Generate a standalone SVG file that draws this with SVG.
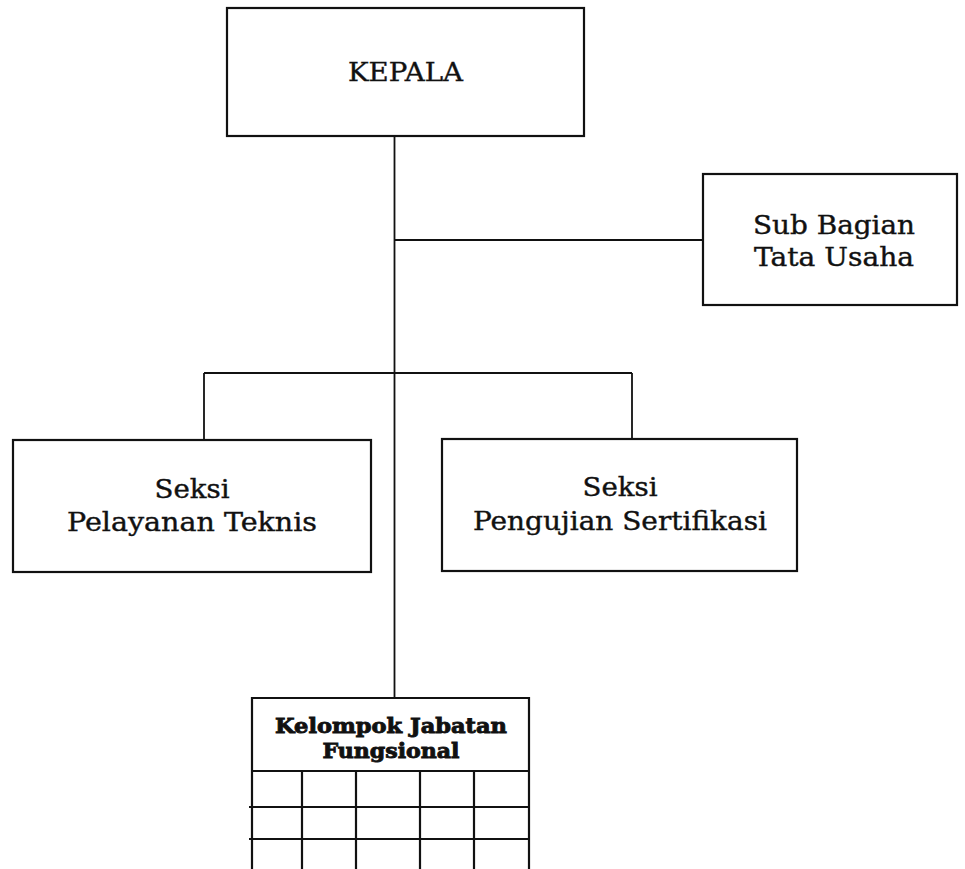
<svg xmlns="http://www.w3.org/2000/svg" width="965" height="869" viewBox="0 0 965 869">
<style>
.box{fill:#fff;stroke:#111;stroke-width:2.2}
.ln{fill:none;stroke:#111;stroke-width:1.8}
.t{font-family:"DejaVu Serif","Liberation Serif",serif;font-size:26px;fill:#111;stroke:#111;stroke-width:0.4;text-anchor:middle}
.b{font-family:"DejaVu Serif","Liberation Serif",serif;font-size:21px;font-weight:bold;fill:#111;stroke:#111;stroke-width:0.9;text-anchor:middle}
</style>
<rect width="965" height="869" fill="#fff"/>
<g id="connectors">
<path class="ln" d="M394.5 136 V698"/>
<path class="ln" d="M394.5 240 H703"/>
<path class="ln" d="M204 373 H632 M204 373 V439 M632 373 V439"/>
</g>
<g id="kepala">
<rect class="box" x="227" y="8" width="357" height="128"/>
<text class="t" x="405.5" y="81" textLength="115" lengthAdjust="spacingAndGlyphs">KEPALA</text>
</g>
<g id="subbagian">
<rect class="box" x="703" y="174" width="254" height="131"/>
<text class="t" x="834" y="234" textLength="162" lengthAdjust="spacingAndGlyphs">Sub Bagian</text>
<text class="t" x="834" y="266" textLength="160" lengthAdjust="spacingAndGlyphs">Tata Usaha</text>
</g>
<g id="pelayanan">
<rect class="box" x="13" y="440" width="358" height="132"/>
<text class="t" x="192" y="498" textLength="75" lengthAdjust="spacingAndGlyphs">Seksi</text>
<text class="t" x="192" y="531" textLength="250" lengthAdjust="spacingAndGlyphs">Pelayanan Teknis</text>
</g>
<g id="pengujian">
<rect class="box" x="442" y="439" width="355" height="132"/>
<text class="t" x="620" y="496" textLength="75" lengthAdjust="spacingAndGlyphs">Seksi</text>
<text class="t" x="620" y="530" textLength="294" lengthAdjust="spacingAndGlyphs">Pengujian Sertifikasi</text>
</g>
<g id="kelompok">
<path class="box" d="M252 870 V698 H529 V870"/>
<text class="b" x="391" y="733" textLength="232" lengthAdjust="spacingAndGlyphs">Kelompok Jabatan</text>
<text class="b" x="391" y="758" textLength="137" lengthAdjust="spacingAndGlyphs">Fungsional</text>
<path class="ln" style="stroke-width:2.2" d="M252 771 H529 M249 807 H529 M249 839 H529 M302 771 V869 M356 771 V869 M420 771 V869 M474 771 V869"/>
</g>
</svg>
